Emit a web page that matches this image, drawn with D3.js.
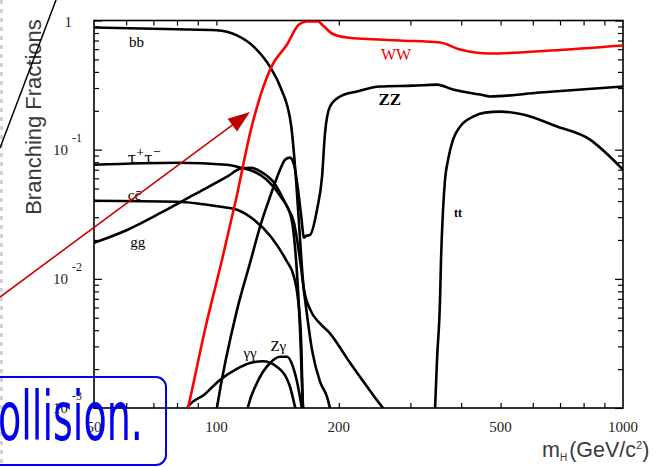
<!DOCTYPE html>
<html>
<head>
<meta charset="utf-8">
<script src="https://cdn.jsdelivr.net/npm/d3@7"></script>
<style>
  html, body { margin: 0; padding: 0; background: #fff; }
  svg { display: block; }
</style>
</head>
<body>
<svg id="chart" width="662" height="467"></svg>
<script>
// Higgs boson branching fractions versus mass (GeV/c^2), log-log.
// Each decay channel is a list of [mH, BR] points.
const bbValues = [[50,0.882],[80,0.856],[100,0.84],[112,0.77],[124,0.62],[136,0.43],[144,0.30],
  [152.6,0.156],[157,0.0585],[160.6,0.0201],[164,0.0085],[170,0.0058],[180,0.0045],[190,0.0038],
  [210,0.0024],[230,0.0016],[257,0.001],[265,0.0009]];
const tautauValues = [[50,0.0765],[80,0.0793],[106,0.0765],[115,0.0725],[124,0.0675],[133,0.0585],
  [144,0.0432],[152.6,0.0302],[157,0.014],[160.6,0.004],[163.3,0.001],[164,0.0008]];
const ccValues = [[50,0.0402],[80,0.0395],[102.6,0.0361],[112.4,0.0343],[123.7,0.0287],[136.2,0.0212],
  [148.3,0.014],[155.2,0.01036],[158.8,0.0069],[161.5,0.0034],[163.3,0.001],[164,0.0008]];
const ggValues = [[50,0.019],[60.5,0.024],[73.1,0.0325],[88.1,0.0448],[106.2,0.0618],[114.9,0.0714],
  [121.6,0.0725],[128.7,0.0675],[138.6,0.0555],[149.2,0.0361],[155.2,0.0272],[160.6,0.014],
  [165.2,0.0069],[171.9,0.0028],[179.8,0.0016],[187.1,0.00122],[191,0.00095]];
const gammagammaValues = [[84,0.00095],[85.1,0.00102],[93.7,0.00128],[102,0.00165],[112,0.002],
  [121,0.00223],[130,0.0023],[141,0.00208],[151.7,0.00146],[156.1,0.00102],[157,0.00095]];
const ZgammaValues = [[119,0.00095],[119.6,0.00102],[125.8,0.00156],[135.5,0.00223],[143.4,0.00249],
  [149.2,0.00249],[154.3,0.00208],[158.8,0.00146],[162,0.00102],[162.5,0.00095]];
const WWValues = [[84,0.00085],[85.1,0.001],[93.7,0.00402],[103.2,0.014],[111.7,0.041],[121.6,0.143],
  [136.2,0.432],[149.2,0.652],[159.6,0.931],[167,0.982],[177.8,0.982],[184,0.898],[192.4,0.793],
  [209.5,0.738],[282.9,0.70],[354.8,0.675],[397.5,0.596],[470.9,0.555],[661.5,0.585],[1000,0.64]];
const ZZValues = [[99.5,0.00085],[100.3,0.001],[112.4,0.00575],[121,0.0133],[128,0.0253],[135.5,0.0432],
  [143.4,0.070],[147.5,0.0836],[151.7,0.0867],[155.2,0.0765],[158.8,0.049],[161.5,0.0314],
  [164.3,0.0208],[166.1,0.0215],[169.9,0.0219],[176.8,0.0343],[181.9,0.0618],[185,0.135],
  [190.3,0.216],[201.4,0.258],[221.7,0.282],[252.6,0.308],[304.6,0.313],[348.8,0.319],
  [381.9,0.292],[445,0.267],[470.9,0.258],[625,0.277],[1000,0.308]];
const ttValues = [[344,0.0008],[345,0.001],[348.8,0.00236],[354.8,0.00688],[356.8,0.01404],[360.9,0.0343],
  [365,0.0585],[371.3,0.0836],[381.9,0.1195],[397.5,0.1508],[427.8,0.180],[457.7,0.1935],
  [498.3,0.197],[567.8,0.187],[688.2,0.151],[829.8,0.1195],[929,0.0882],[1000,0.070]];

// Axis ticks and labels
const massMinorTicks = [60,70,80,90,200,300,400,600,700,800,900];
const massMajorTicks = [100,500];
const massTickLabels = [50,100,200,500,1000];
const brExponents = [0,-1,-2,-3];
const brMinorTicks = [];
brExponents.slice(1).forEach(e => { for (let k = 2; k <= 9; k++) brMinorTicks.push(k * Math.pow(10, e)); });

// Label for each curve: text, anchor mass and BR (text baseline)
const curveLabels = [
  { text: "bb", m: 63.6, br: 0.629, color: "#000" },
  { text: "cc\u0304", m: 62.9, br: 0.041, color: "#000" },
  { text: "gg", m: 64.1, br: 0.0177, color: "#000" },
  { text: "WW", m: 276.5, br: 0.498, color: "#ee0000", size: 16 },
  { text: "ZZ", m: 267, br: 0.223, color: "#000", bold: true, size: 17 },
  { text: "tt", m: 392.9, br: 0.0302, color: "#000", bold: true, size: 12 },
  { text: "\u03b3\u03b3", m: 121, br: 0.00244, color: "#000" },
  { text: "Z\u03b3", m: 142, br: 0.00277, color: "#000" }
];

const W = 662, H = 467;
const plot = { left: 94, right: 623, top: 20.5, bottom: 408 };

const svg = d3.select("#chart");
svg.append("rect").attr("width", W).attr("height", H).attr("fill", "#fff");

const x = d3.scaleLog().domain([50, 1000]).range([plot.left, plot.right]);
const y = d3.scaleLog().domain([0.001, 1]).range([plot.bottom, plot.top]);

svg.append("clipPath").attr("id", "plot-clip")
  .append("rect").attr("x", plot.left).attr("y", plot.top)
  .attr("width", plot.right - plot.left).attr("height", plot.bottom - plot.top);

// slide border (dotted)
svg.append("line").attr("x1", 1.5).attr("x2", 1.5).attr("y1", 0).attr("y2", H)
  .attr("stroke", "#c9c9c9").attr("stroke-width", 2.5).attr("stroke-dasharray", "4,5");

// ---- axes ----
function styleAxis(g) {
  g.select(".domain").remove();
  g.selectAll(".tick line").attr("stroke", "#000").attr("stroke-width", 1.2);
  g.selectAll(".tick text").remove();
}
const decadeTicks = brExponents.map(e => Math.pow(10, e));
svg.append("g").attr("transform", `translate(${plot.left},0)`)
  .call(d3.axisLeft(y).tickValues(decadeTicks).tickSize(-8)).call(styleAxis);
svg.append("g").attr("transform", `translate(${plot.left},0)`)
  .call(d3.axisLeft(y).tickValues(brMinorTicks).tickSize(-5)).call(styleAxis);
svg.append("g").attr("transform", `translate(${plot.right},0)`)
  .call(d3.axisRight(y).tickValues(decadeTicks).tickSize(-8)).call(styleAxis);
svg.append("g").attr("transform", `translate(${plot.right},0)`)
  .call(d3.axisRight(y).tickValues(brMinorTicks).tickSize(-5)).call(styleAxis);
svg.append("g").attr("transform", `translate(0,${plot.bottom})`)
  .call(d3.axisBottom(x).tickValues(massMinorTicks.concat(massMajorTicks)).tickSize(-5)).call(styleAxis);
svg.append("g").attr("transform", `translate(0,${plot.top})`)
  .call(d3.axisTop(x).tickValues(massMinorTicks.concat(massMajorTicks)).tickSize(-5)).call(styleAxis);

// frame
svg.append("rect").attr("x", plot.left).attr("y", plot.top)
  .attr("width", plot.right - plot.left).attr("height", plot.bottom - plot.top)
  .attr("fill", "none").attr("stroke", "#000").attr("stroke-width", 1.6);

// tick labels
const tickFont = "'Liberation Serif', 'Times New Roman', serif";
svg.append("g").selectAll("text").data(massTickLabels).join("text")
  .attr("x", d => x(d)).attr("y", 432)
  .attr("text-anchor", "middle").attr("font-family", tickFont).attr("font-size", 15)
  .attr("fill", "#222").text(d => d);

brExponents.forEach(e => {
  const yy = y(Math.pow(10, e));
  if (e === 0) {
    svg.append("text").attr("x", 72).attr("y", yy + 6.5).attr("text-anchor", "end")
      .attr("font-family", tickFont).attr("font-size", 15).attr("fill", "#222").text("1");
  } else {
    svg.append("text").attr("x", 68).attr("y", yy + 5).attr("text-anchor", "end")
      .attr("font-family", tickFont).attr("font-size", 15).attr("fill", "#222").text("10");
    svg.append("text").attr("x", 72).attr("y", yy - 8).attr("text-anchor", "start")
      .attr("font-family", tickFont).attr("font-size", 12).attr("fill", "#222").text("-" + (-e));
  }
});

// axis titles
svg.append("text")
  .attr("transform", "translate(41,117) rotate(-90)")
  .attr("text-anchor", "middle")
  .attr("font-family", "'Liberation Sans', Arial, sans-serif").attr("font-size", 22)
  .attr("fill", "#3a3a3a").text("Branching Fractions");

const xt = svg.append("text").attr("x", 542).attr("y", 457)
  .attr("font-family", "'Liberation Sans', Arial, sans-serif").attr("font-size", 21.5).attr("fill", "#3a3a3a");
xt.append("tspan").text("m");
xt.append("tspan").attr("font-size", 10).attr("dy", 4).text("H");
xt.append("tspan").attr("dx", 2).attr("dy", -4).text("(GeV/c");
xt.append("tspan").attr("font-size", 11).attr("dy", -8).text("2");
xt.append("tspan").attr("dy", 8).text(")");

// ---- curves ----
const line = d3.line().x(d => x(d[0])).y(d => y(d[1])).curve(d3.curveMonotoneX);
const curves = svg.append("g").attr("clip-path", "url(#plot-clip)")
  .attr("fill", "none").attr("stroke-linejoin", "round").attr("stroke-linecap", "round");

const blackSeries = [bbValues, tautauValues, ccValues, ggValues, gammagammaValues, ZgammaValues, ZZValues, ttValues];
curves.selectAll("path.black").data(blackSeries).join("path")
  .attr("class", "black").attr("d", line)
  .attr("stroke", "#000").attr("stroke-width", 2.6);
curves.append("path").datum(WWValues).attr("d", line)
  .attr("stroke", "#ff0000").attr("stroke-width", 2.6);

// curve labels
const labelFont = "'Liberation Serif', 'Times New Roman', serif";
curveLabels.forEach(l => {
  svg.append("text").attr("x", x(l.m)).attr("y", y(l.br))
    .attr("text-anchor", "middle").attr("font-family", labelFont)
    .attr("font-size", l.size || 15).attr("font-weight", l.bold ? "bold" : "normal")
    .attr("fill", l.color).text(l.text);
});
// tau+ tau- label with superscripts
const tau = svg.append("text").attr("x", x(60.5)).attr("y", y(0.0793))
  .attr("font-family", "'DejaVu Serif', serif").attr("font-size", 15).attr("fill", "#000");
tau.append("tspan").text("\u03c4");
tau.append("tspan").attr("font-size", 10).attr("dy", -8).text("+");
tau.append("tspan").attr("dy", 8).text("\u03c4");
tau.append("tspan").attr("font-size", 10).attr("dy", -8).text("\u2212");

// ---- slide annotations drawn over the chart ----
svg.append("line").attr("x1", 0).attr("y1", 148).attr("x2", 56).attr("y2", 0)
  .attr("stroke", "#000").attr("stroke-width", 1.5);

const arrowStart = [0, 297], arrowTip = [250, 112];
const dx = arrowTip[0] - arrowStart[0], dy = arrowTip[1] - arrowStart[1];
const len = Math.hypot(dx, dy), ux = dx / len, uy = dy / len;
const headLen = 22, headHalf = 8;
const base = [arrowTip[0] - headLen * ux, arrowTip[1] - headLen * uy];
svg.append("line").attr("x1", arrowStart[0]).attr("y1", arrowStart[1])
  .attr("x2", base[0] + 2 * ux).attr("y2", base[1] + 2 * uy)
  .attr("stroke", "#cc0000").attr("stroke-width", 1.6);
svg.append("polygon")
  .attr("points", [arrowTip, [base[0] - headHalf * uy, base[1] + headHalf * ux],
    [base[0] + headHalf * uy, base[1] - headHalf * ux]].map(p => p.join(",")).join(" "))
  .attr("fill", "#c00000");

svg.append("rect").attr("x", -12).attr("y", 377).attr("width", 178).attr("height", 88)
  .attr("rx", 10).attr("ry", 10)
  .attr("fill", "none").attr("stroke", "#0000ee").attr("stroke-width", 2);
svg.append("text")
  .attr("transform", "translate(-2,440) scale(0.56,1)")
  .attr("font-family", "'DejaVu Sans', Verdana, sans-serif").attr("font-size", 68)
  .attr("fill", "#0000ee").text("ollision.");
</script>
</body>
</html>
